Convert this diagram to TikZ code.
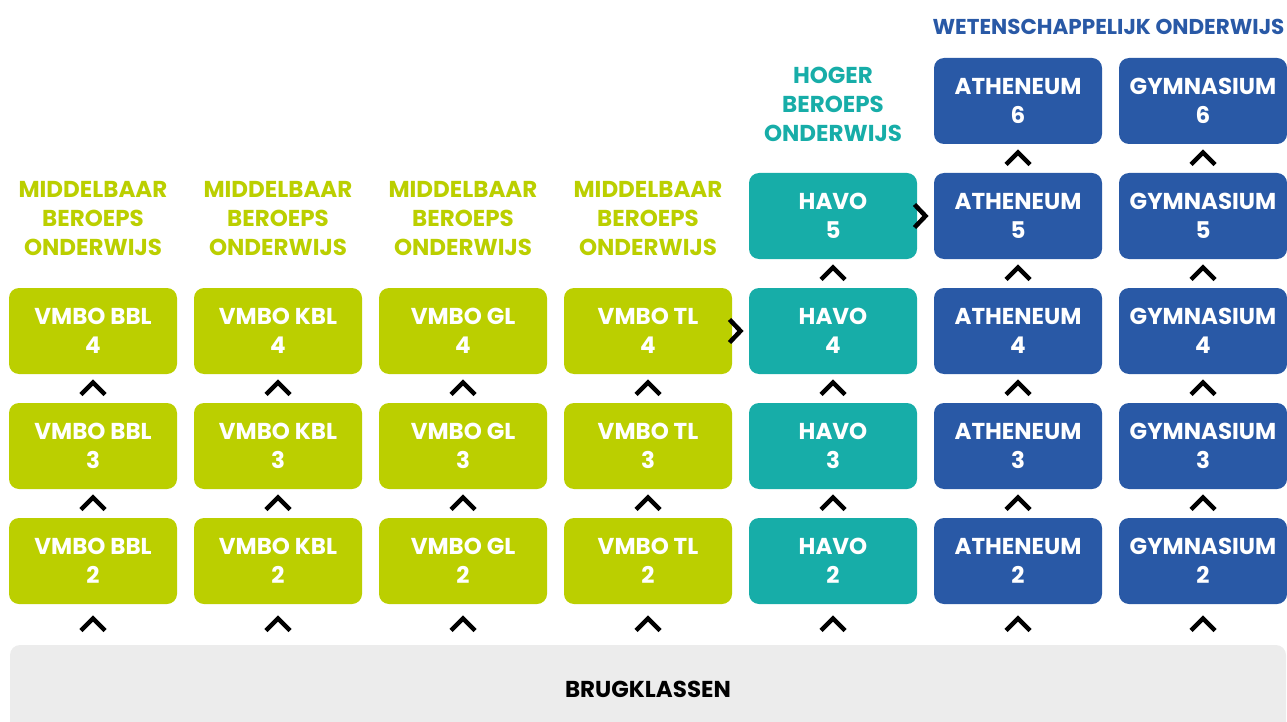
\documentclass[tikz,border=0pt]{standalone}
\usepackage{fontspec}
\setmainfont{Poppins}
\usetikzlibrary{calc}
\definecolor{mbogreen}{HTML}{BBCF00}
\definecolor{hboteal}{HTML}{17ADA8}
\definecolor{woblue}{HTML}{2959A6}
\definecolor{brugrey}{HTML}{ECECEC}
\tikzset{
  txt/.style={font=\bfseries\fontsize{23}{29}\selectfont, align=center, inner sep=0pt},
  level/.style={txt, rounded corners=10pt, minimum width=168pt, minimum height=86pt, text=white},
  chev/.style={line width=4.5pt, miter limit=10},
  chevup/.pic={\draw[chev] (-12,6)--(0,-6)--(12,6);},
  chevright/.pic={\draw[chev] (-11,-11.5)--(0,0)--(-11,11.5);},
}

\begin{document}
\begin{tikzpicture}[x=1pt,y=-1pt]
\useasboundingbox (0,0) rectangle (1287,722);
% brugklassen onderaan
\node[txt, fill=brugrey, rounded corners=10pt, minimum width=1276pt, minimum height=88pt] (brug) at (648,689) {BRUGKLASSEN};
% kolommen
\foreach \i/\lab/\col/\top in {1/VMBO BBL/mbogreen/4, 2/VMBO KBL/mbogreen/4, 3/VMBO GL/mbogreen/4, 4/VMBO TL/mbogreen/4,
    5/HAVO/hboteal/5, 6/ATHENEUM/woblue/6, 7/GYMNASIUM/woblue/6}{
  \foreach \r in {2,...,\top}{
    \node[level, fill=\col] (c\i-\r) at ({93+(\i-1)*185},{561-(\r-2)*115}) {\lab\\\r};
  }
  \pic at ($(brug.north -| c\i-2.south)!0.5!(c\i-2.south)$) {chevup};
  \foreach \r in {3,...,\top}{
    \pgfmathtruncatemacro\prev{\r-1}
    \pic at ($(c\i-\prev.north)!0.5!(c\i-\r.south)$) {chevup};
  }
}
% doorstroom
\pic at ($(c4-4.east)!0.5!(c5-4.west)$) {chevright};
\pic at ($(c5-5.east)!0.5!(c6-5.west)$) {chevright};
% koppen
\foreach \i in {1,...,4}{
  \node[txt, text=mbogreen] (mbo\i) at ({93+(\i-1)*185},219) {MIDDELBAAR\\BEROEPS\\ONDERWIJS};
}
\node[txt, text=hboteal] (hbo) at (833,104) {HOGER\\BEROEPS\\ONDERWIJS};
\node[txt, text=woblue, font=\bfseries\fontsize{21.5}{29}\selectfont] (wo) at ($(c6-6.north)!0.5!(c7-6.north)+(-2,-31)$) {WETENSCHAPPELIJK ONDERWIJS};
\end{tikzpicture}
\end{document}
